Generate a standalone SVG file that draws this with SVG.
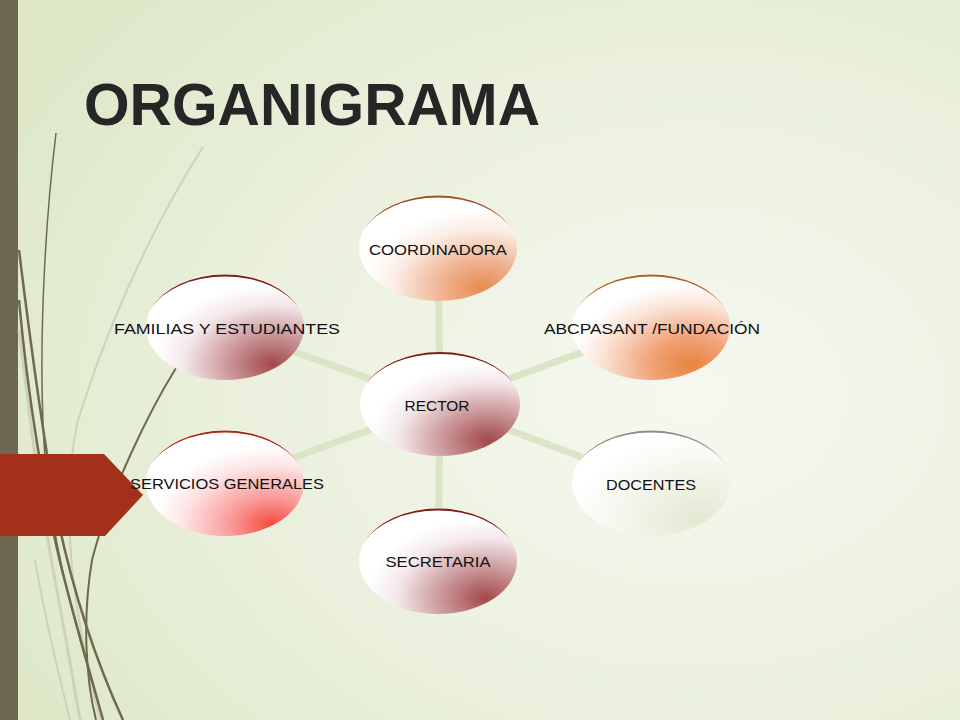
<svg xmlns="http://www.w3.org/2000/svg" width="960" height="720" viewBox="0 0 960 720">
<defs>
<radialGradient id="bg" cx="0.72" cy="0.55" r="0.8">
<stop offset="0" stop-color="#f6f8f0"/>
<stop offset="0.6" stop-color="#eaf0dc"/>
<stop offset="1" stop-color="#dee8c9"/>
</radialGradient>
<radialGradient id="gOrange" cx="0.78" cy="0.88" r="0.75">
<stop offset="0" stop-color="#e88a4e"/>
<stop offset="0.35" stop-color="#efb392"/>
<stop offset="0.75" stop-color="#fbeee6"/>
<stop offset="1" stop-color="#ffffff"/>
</radialGradient>
<radialGradient id="gOrange2" cx="0.75" cy="0.85" r="0.75">
<stop offset="0" stop-color="#e8843f"/>
<stop offset="0.35" stop-color="#f1a47a"/>
<stop offset="0.75" stop-color="#fbe4d8"/>
<stop offset="1" stop-color="#ffffff"/>
</radialGradient>
<radialGradient id="gMaroon" cx="0.8" cy="0.85" r="0.75">
<stop offset="0" stop-color="#a3484a"/>
<stop offset="0.35" stop-color="#c89294"/>
<stop offset="0.75" stop-color="#f4e8ea"/>
<stop offset="1" stop-color="#ffffff"/>
</radialGradient>
<radialGradient id="gRed" cx="0.8" cy="0.9" r="0.75">
<stop offset="0" stop-color="#f5483c"/>
<stop offset="0.35" stop-color="#f99a98"/>
<stop offset="0.75" stop-color="#fde4e4"/>
<stop offset="1" stop-color="#ffffff"/>
</radialGradient>
<radialGradient id="gPale" cx="0.8" cy="0.85" r="0.8">
<stop offset="0" stop-color="#e2e9d2"/>
<stop offset="0.6" stop-color="#f3f6ec"/>
<stop offset="1" stop-color="#ffffff"/>
</radialGradient>
</defs>
<style>
.lbl{font-family:"Liberation Sans",Arial,sans-serif;font-size:15.5px;fill:#111;text-anchor:middle;dominant-baseline:central}
.conn{stroke:#dbe4c6;stroke-width:7;fill:none}
.deco{fill:none;stroke:#6f6a4c}
.pale{fill:none;stroke:#cfd2b8}
</style>
<rect width="960" height="720" fill="url(#bg)"/>
<rect x="0" y="0" width="18" height="720" fill="#6d684f"/>
<g id="decor">
<path class="pale" stroke-width="2" d="M203,147 C150,230 110,320 78,420 C60,500 70,600 100,720"/>
<path class="pale" stroke-width="3" d="M19,330 C30,420 40,500 55,580 C68,650 75,690 80,720"/>
<path class="pale" stroke-width="2" d="M35,560 C45,620 60,680 70,720"/>
<path class="deco" stroke-width="1.5" d="M56,133 C42,250 38,380 46,470 C55,560 80,640 103,720"/>
<path class="deco" stroke-width="2.5" d="M19,250 C30,340 42,430 58,520 C75,600 100,670 123,720"/>
<path class="deco" stroke-width="2.5" d="M19,300 C28,400 45,500 62,570 C80,640 95,690 103,720"/>
<path class="deco" stroke-width="2" d="M176,368 C150,410 110,490 92,560 C82,620 86,680 96,720"/>
</g>
<polygon id="arrow" points="0,454 104,454 143,495 105,536 0,536" fill="#a2301a"/>
<text id="title" x="84" y="125" font-family="'Liberation Sans',Arial,sans-serif" font-weight="bold" font-size="60" fill="#262626" textLength="456" lengthAdjust="spacingAndGlyphs">ORGANIGRAMA</text>
<g id="connectors">
<line class="conn" x1="440" y1="404" x2="438" y2="248"/>
<line class="conn" x1="440" y1="404" x2="651" y2="327"/>
<line class="conn" x1="440" y1="404" x2="651" y2="483"/>
<line class="conn" x1="440" y1="404" x2="438" y2="561"/>
<line class="conn" x1="440" y1="404" x2="225" y2="483"/>
<line class="conn" x1="440" y1="404" x2="225" y2="327"/>
</g>
<g id="coordinadora" transform="translate(438,248)">
<ellipse rx="79" ry="53" fill="url(#gOrange)"/>
<path fill="#a0521e" d="M-74,-18 A79,53 0 0 1 74,-18 A79,50 0 0 0 -74,-18 Z"/>
<text class="lbl" y="1" textLength="138" lengthAdjust="spacingAndGlyphs">COORDINADORA</text>
</g>
<g id="abcpasant" transform="translate(651,327)">
<ellipse rx="79" ry="53" fill="url(#gOrange2)"/>
<path fill="#b0601e" d="M-74,-18 A79,53 0 0 1 74,-18 A79,50 0 0 0 -74,-18 Z"/>
<text class="lbl" x="1" y="1" textLength="216" lengthAdjust="spacingAndGlyphs">ABCPASANT /FUNDACIÓN</text>
</g>
<g id="docentes" transform="translate(651,483)">
<ellipse rx="79" ry="53" fill="url(#gPale)"/>
<path fill="#8d8e84" d="M-74,-18 A79,53 0 0 1 74,-18 A79,50 0 0 0 -74,-18 Z"/>
<text class="lbl" y="1" textLength="90" lengthAdjust="spacingAndGlyphs">DOCENTES</text>
</g>
<g id="secretaria" transform="translate(438,561)">
<ellipse rx="79" ry="53" fill="url(#gMaroon)"/>
<path fill="#7c1e12" d="M-74,-18 A79,53 0 0 1 74,-18 A79,50 0 0 0 -74,-18 Z"/>
<text class="lbl" y="0" textLength="105" lengthAdjust="spacingAndGlyphs">SECRETARIA</text>
</g>
<g id="servicios" transform="translate(225,483)">
<ellipse rx="79" ry="53" fill="url(#gRed)"/>
<path fill="#a82a14" d="M-74,-18 A79,53 0 0 1 74,-18 A79,50 0 0 0 -74,-18 Z"/>
<text class="lbl" x="2" y="0" textLength="194" lengthAdjust="spacingAndGlyphs">SERVICIOS GENERALES</text>
</g>
<g id="familias" transform="translate(225,327)">
<ellipse rx="79" ry="53" fill="url(#gMaroon)"/>
<path fill="#7c1e12" d="M-74,-18 A79,53 0 0 1 74,-18 A79,50 0 0 0 -74,-18 Z"/>
<text class="lbl" x="2" y="1" textLength="226" lengthAdjust="spacingAndGlyphs">FAMILIAS Y ESTUDIANTES</text>
</g>
<g id="rector" transform="translate(440,404)">
<ellipse rx="80" ry="52" fill="url(#gMaroon)"/>
<path fill="#7c1e12" d="M-75,-18 A80,52 0 0 1 75,-18 A80,49 0 0 0 -75,-18 Z"/>
<text class="lbl" x="-3" y="1" textLength="65" lengthAdjust="spacingAndGlyphs">RECTOR</text>
</g>
</svg>
